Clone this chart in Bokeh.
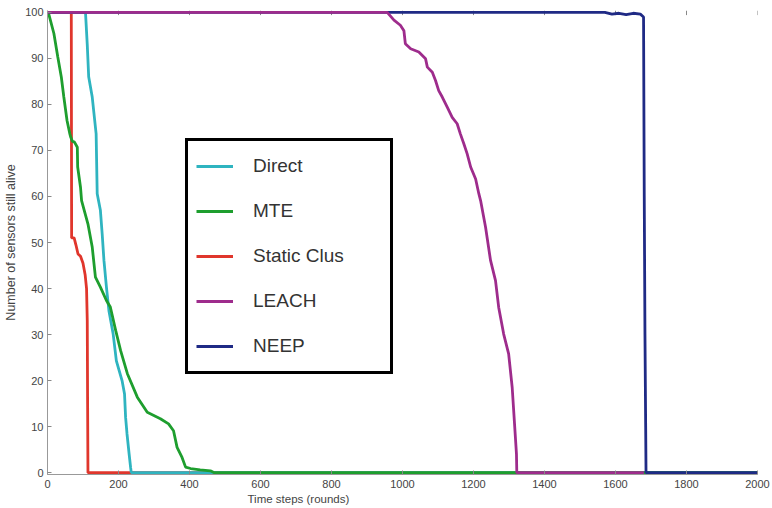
from bokeh.plotting import figure
from bokeh.models import Range1d, Legend, LegendItem, Title, FixedTicker
from bokeh.embed import file_html
from bokeh.resources import INLINE

# ---- data ----
x_ticks = list(range(0, 2001, 200))
y_ticks = list(range(0, 101, 10))

direct_x = [0, 107, 112, 116, 126, 137, 140, 149, 154, 159, 166, 173, 185, 194, 210, 217, 220, 224, 230, 234, 236, 2000]
direct_y = [100, 100, 93, 86, 81.6, 73.6, 60.6, 57, 51.9, 46.1, 40.3, 35.2, 30.1, 24.3, 20, 17.1, 12, 8.4, 4, 1.2, 0, 0]

mte_x = [0, 4, 18, 29, 39, 46, 55, 63, 65, 70, 76, 84, 85, 93, 96, 114, 126, 135, 149, 166, 177, 192, 206, 225, 253, 281,
         318, 341, 355, 365, 379, 389, 403, 430, 459, 470, 2000]
mte_y = [100, 99.5, 95.4, 90.3, 85.9, 81.6, 76.5, 73.6, 73, 72, 71.8, 70.7, 66.4, 62, 59.1, 54, 49, 42.5, 40.3, 37.4, 36,
         30.9, 26.5, 21.5, 16.4, 13.1, 11.7, 10.6, 9.1, 5.5, 3.3, 1.2, 0.9, 0.6, 0.4, 0, 0]

static_x = [0, 67, 68, 75, 80, 86, 93, 100, 106, 110, 112, 113, 114, 2000]
static_y = [100, 100, 51, 51, 49.5, 47.5, 47, 45.5, 43, 40, 33, 15, 0, 0]

leach_x = [0, 957, 976, 994, 1004, 1008, 1023, 1046, 1065, 1070, 1084, 1093, 1102, 1112, 1126, 1140, 1154, 1163,
           1173, 1182, 1192, 1206, 1215, 1220, 1234, 1248, 1262, 1271, 1285, 1299, 1309, 1315, 1321, 1322, 1680]
leach_y = [100, 100, 98.3, 97.2, 96, 93.2, 92.1, 91.4, 89.9, 88.1, 87, 85.2, 83, 81.6, 79.4, 77.2, 75.8, 73.6,
           71.4, 69.3, 66.4, 63.8, 60.6, 59.1, 53.3, 46.1, 41.7, 35.9, 30.1, 25.8, 18.5, 11.3, 4.1, 0, 0]

neep_x = [0, 1570, 1590, 1610, 1630, 1650, 1670, 1679, 1681, 1683, 1685, 1686, 2000]
neep_y = [100, 100, 99.6, 99.8, 99.5, 99.8, 99.6, 99, 60, 30, 10, 0, 0]

labels = ["Direct", "MTE", "Static Clus", "LEACH", "NEEP"]
colors = {"Direct": "#2fb4c0", "MTE": "#1e9e2e", "Static Clus": "#e0362c", "LEACH": "#9e2c8c", "NEEP": "#1f2a85"}

FONT = "Liberation Sans"
Y_LO, Y_HI = -0.4, 100.4

p = figure(width=772, height=508, output_backend="svg", toolbar_location=None,
           x_range=Range1d(0, 2000), y_range=Range1d(Y_LO, Y_HI),
           min_border_left=47, min_border_right=15, min_border_top=10, min_border_bottom=34,
           background_fill_color="white", border_fill_color="white")
p.outline_line_color = None
p.grid.visible = False

for ax, ticks in ((p.xaxis[0], x_ticks), (p.yaxis[0], y_ticks)):
    ax.ticker = FixedTicker(ticks=ticks)
    ax.minor_tick_line_color = None
    ax.major_tick_in = 4
    ax.major_tick_out = 0
    ax.major_tick_line_color = "#888888"
    ax.axis_line_color = "#999999"
    ax.major_label_text_font = FONT
    ax.major_label_text_font_size = "11px"
    ax.major_label_text_color = "#444444"
    ax.major_label_standoff = 5

p.yaxis.major_label_standoff = 4
p.yaxis.axis_label = "Number of sensors still alive"
p.yaxis.axis_label_text_font = FONT
p.yaxis.axis_label_text_font_size = "12.5px"
p.yaxis.axis_label_text_font_style = "normal"
p.yaxis.axis_label_text_color = "#444444"
p.yaxis.axis_label_standoff = 4

# inward tick marks along the top edge of the box
p.segment(x0=x_ticks, x1=x_ticks, y0=[Y_HI] * len(x_ticks), y1=[Y_HI - 1.0] * len(x_ticks),
          line_color="#888888", line_width=1)

lw = 2.8
r_static = p.line(static_x, static_y, line_color=colors["Static Clus"], line_width=lw)
r_direct = p.line(direct_x, direct_y, line_color=colors["Direct"], line_width=lw)
r_mte = p.line(mte_x, mte_y, line_color=colors["MTE"], line_width=lw)
r_neep = p.line(neep_x, neep_y, line_color=colors["NEEP"], line_width=lw)
r_leach = p.line(leach_x, leach_y, line_color=colors["LEACH"], line_width=lw)

rmap = {"Direct": r_direct, "MTE": r_mte, "Static Clus": r_static, "LEACH": r_leach, "NEEP": r_neep}
legend = Legend(items=[LegendItem(label=l, renderers=[rmap[l]]) for l in labels],
                location=(138, 100), orientation="vertical",
                border_line_color="black", border_line_width=3, border_line_alpha=1,
                padding=8, spacing=11, label_height=34, glyph_height=34, glyph_width=37,
                label_standoff=20, label_width=129, margin=0,
                label_text_font=FONT, label_text_font_size="19px", label_text_color="#333333",
                background_fill_color="white", background_fill_alpha=1)
p.add_layout(legend, "center")

xtitle = Title(text="Time steps (rounds)", align="left", offset=200, standoff=0,
               text_font=FONT, text_font_size="11.5px", text_font_style="normal", text_color="#444444")
p.add_layout(xtitle, "below")

open("out.html", "w").write(file_html(p, INLINE))
